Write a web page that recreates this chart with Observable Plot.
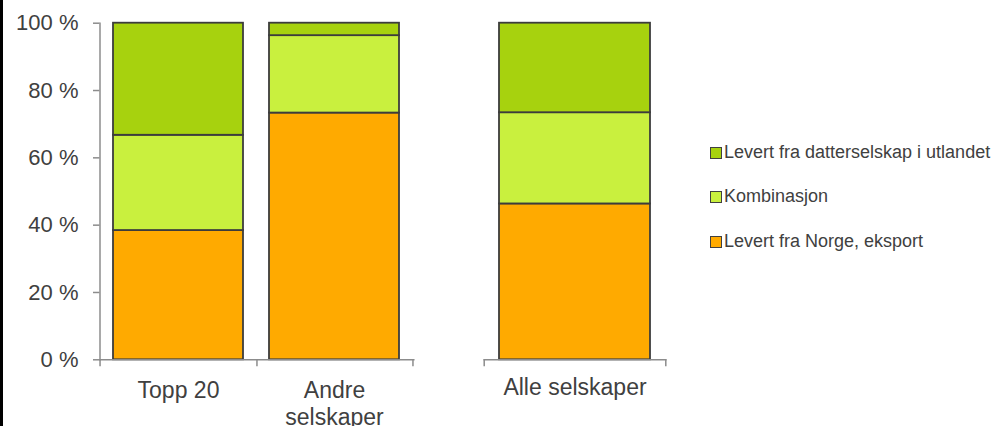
<!DOCTYPE html>
<html>
<head>
<meta charset="utf-8">
<script src="https://cdn.jsdelivr.net/npm/d3@7"></script>
<script src="https://cdn.jsdelivr.net/npm/@observablehq/plot@0.6"></script>
<style>
  html, body { margin: 0; padding: 0; background: #fff; }
  #wrap { position: relative; width: 1004px; height: 426px; overflow: hidden; font-family: "Liberation Sans", Arial, sans-serif; }
  #wrap svg { position: absolute; left: 0; top: 0; }
  #edge { position: absolute; left: 0; top: 0; width: 3px; height: 426px; background: #000; }
  .leg { position: absolute; left: 710px; height: 22px; line-height: 22px; font-size: 18px; color: #404040; white-space: nowrap; }
  .leg span.sw { display: inline-block; width: 10px; height: 10px; border: 1.5px solid #404040; margin-right: 2px; vertical-align: -1px; }
</style>
</head>
<body>
<div id="wrap"><div id="edge"></div></div>
<script>
// ---- data ----
const categories = ["Topp 20", "Andre selskaper", "Alle selskaper"];
const groupA = ["Topp 20", "Andre selskaper"];
const groupB = ["Alle selskaper"];
const seriesNames = ["Levert fra Norge, eksport", "Kombinasjon", "Levert fra datterselskap i utlandet"];
const eksport = [38.4, 73.3, 46.3];
const kombinasjon = [28.3, 23.0, 27.1];
const datterselskap = [33.3, 3.7, 26.6];
const yTicks = [0, 20, 40, 60, 80, 100];
const seriesColors = ["#FFAA00", "#C9F03E", "#A7D20E"];
const labelText = {"Topp 20": "Topp 20", "Andre selskaper": "Andre\nselskaper", "Alle selskaper": "Alle selskaper"};

const seriesValues = [eksport, kombinasjon, datterselskap];
const rows = [];
seriesNames.forEach((s, si) => categories.forEach((c, ci) => rows.push({cat: c, series: s, value: seriesValues[si][ci]})));

const W = 1004, H = 426;
const plotTop = 22.7, plotBottom = 359.3;
const axisGray = "#8c8c8c";
const textCol = "#404040";
const font = "'Liberation Sans', Arial, sans-serif";

function barMark(group) {
  return Plot.barY(rows.filter(r => group.includes(r.cat)), {
    x: "cat", y: "value", fill: "series", stroke: "#3c3c3c", strokeWidth: 1.8, inset: 0
  });
}
const colorScale = {domain: seriesNames, range: seriesColors};
const common = {
  width: W, height: H, marginTop: plotTop, marginBottom: H - plotBottom,
  y: {domain: [0, 100], axis: null},
  color: colorScale,
  style: {background: "transparent", fontFamily: font, overflow: "visible"}
};

// ---- left chart ----
const aLeft = 99.5, aRight = 413.3;
const halfA = (aRight - aLeft) / 4;
const plotA = Plot.plot({
  ...common,
  marginLeft: aLeft, marginRight: W - aRight,
  x: {domain: groupA, paddingInner: 0.165, paddingOuter: 0.0825, axis: null},
  marks: [
    barMark(groupA),
    Plot.frame({anchor: "left", stroke: axisGray, strokeWidth: 1.5}),
    Plot.frame({anchor: "bottom", stroke: axisGray, strokeWidth: 1.5}),
    Plot.axisY({ticks: yTicks, label: null, tickSize: 6.5, tickPadding: 15, tickFormat: d => d + " %", fontSize: 22, fill: textCol, stroke: axisGray, strokeWidth: 1.5}),
    Plot.axisX({ticks: groupA, label: null, tickSize: 7, dx: halfA, text: null, stroke: axisGray, strokeWidth: 1.5}),
    Plot.axisX({ticks: [groupA[0]], label: null, tickSize: 7, dx: -halfA, text: null, stroke: axisGray, strokeWidth: 1.5}),
    Plot.axisX({ticks: groupA, label: null, tickSize: 0, tickPadding: 19, fontSize: 23, fill: textCol, lineHeight: 1.17, tickFormat: d => labelText[d]})
  ]
});

// ---- right chart ----
const bLeft = 483.7, bRight = 665.3;
const halfB = (bRight - bLeft) / 2;
const plotB = Plot.plot({
  ...common,
  marginLeft: bLeft, marginRight: W - bRight,
  x: {domain: groupB, padding: 0.092, axis: null},
  marks: [
    barMark(groupB),
    Plot.frame({anchor: "bottom", stroke: axisGray, strokeWidth: 1.5}),
    Plot.axisX({ticks: groupB, label: null, tickSize: 7, dx: halfB, text: null, stroke: axisGray, strokeWidth: 1.5}),
    Plot.axisX({ticks: groupB, label: null, tickSize: 7, dx: -halfB, text: null, stroke: axisGray, strokeWidth: 1.5}),
    Plot.axisX({ticks: groupB, label: null, tickSize: 0, tickPadding: 19, fontSize: 23, fill: textCol, tickFormat: d => labelText[d]})
  ]
});

const wrap = document.getElementById("wrap");
wrap.appendChild(plotA);
wrap.appendChild(plotB);

// ---- legend (top to bottom: reverse stacking order) ----
const legendCenters = [152, 196, 241];
[2, 1, 0].forEach((si, i) => {
  const d = document.createElement("div");
  d.className = "leg";
  d.style.top = (legendCenters[i] - 11) + "px";
  const sw = document.createElement("span");
  sw.className = "sw";
  sw.style.background = seriesColors[si];
  d.appendChild(sw);
  d.appendChild(document.createTextNode(seriesNames[si]));
  wrap.appendChild(d);
});
</script>
</body>
</html>
